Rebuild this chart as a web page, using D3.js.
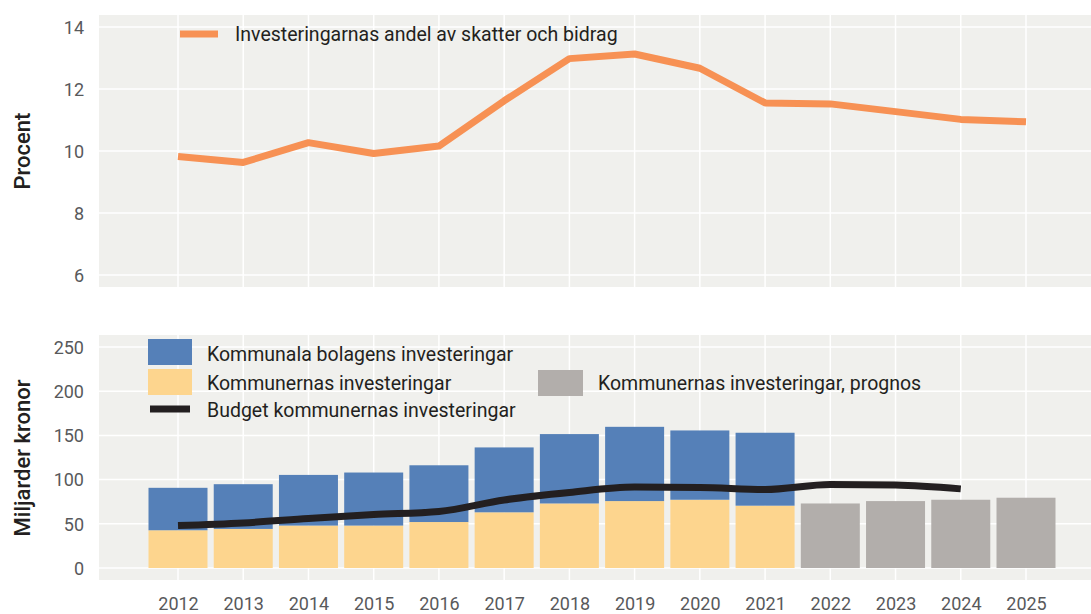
<html>
<head>
<script src="https://d3js.org/d3.v7.min.js"></script>
<style>
  body { margin: 0; background: #fff; }
  svg text { font-family: Roboto, "Open Sans", sans-serif; }
  .tick text { fill: #58595b; font-size: 18px; }
  .lbl { fill: #231f20; font-size: 19.5px; }
</style>
</head>
<body>
<svg id="chart" width="1091" height="614"></svg>
<script>
var years = [2012, 2013, 2014, 2015, 2016, 2017, 2018, 2019, 2020, 2021, 2022, 2023, 2024, 2025];
var andel = [9.82, 9.63, 10.27, 9.92, 10.16, 11.62, 12.98, 13.13, 12.67, 11.55, 11.52, 11.27, 11.02, 10.94];

var barYears = [2012, 2013, 2014, 2015, 2016, 2017, 2018, 2019, 2020, 2021];
var kommuner = [42.7, 44.2, 48, 48, 52, 63, 73, 75.7, 77.2, 70.5];
var bolag = [48, 50.6, 57.3, 60, 64.2, 73.4, 78.5, 84, 78.4, 82.5];

var progYears = [2022, 2023, 2024, 2025];
var prognos = [73, 75.7, 77.2, 79.5];

var budgetYears = [2012, 2013, 2014, 2015, 2016, 2017, 2018, 2019, 2020, 2021, 2022, 2023, 2024];
var budget = [48, 51, 56, 60.5, 64, 77, 85.5, 91.5, 91.2, 88.8, 94.5, 94, 89.5];

var topTicks = [6, 8, 10, 12, 14];
var botTicks = [0, 50, 100, 150, 200, 250];

var svg = d3.select("#chart");
var left = 99, right = 1091;

var x = d3.scaleLinear().domain([2012, 2025]).range([178, 1026]);
var yTop = d3.scaleLinear().domain([6, 14]).range([275, 27]);
var yBot = d3.scaleLinear().domain([0, 250]).range([568, 347]);

function panel(y, top, bottom, ticks) {
  var g = svg.append("g");
  g.append("rect").attr("x", left).attr("y", top)
    .attr("width", right - left).attr("height", bottom - top)
    .attr("fill", "#f0f0ed");
  g.selectAll("line.h").data(ticks).enter().append("line")
    .attr("x1", left).attr("x2", right)
    .attr("y1", function(d) { return y(d); }).attr("y2", function(d) { return y(d); })
    .attr("stroke", "#fff").attr("stroke-width", 1.5);
  g.selectAll("line.v").data(years).enter().append("line")
    .attr("x1", function(d) { return x(d); }).attr("x2", function(d) { return x(d); })
    .attr("y1", top).attr("y2", bottom)
    .attr("stroke", "#fff").attr("stroke-width", 1.5);
  var ax = svg.append("g").attr("transform", "translate(84,0)")
    .call(d3.axisLeft(y).tickValues(ticks).tickSize(0).tickPadding(0).tickFormat(d3.format("d")));
  ax.select(".domain").remove();
  ax.selectAll(".tick text").attr("dy", "0.35em");
}

panel(yTop, 15, 287, topTicks);
panel(yBot, 335, 580, botTicks);

// top line
svg.append("path").datum(years)
  .attr("fill", "none").attr("stroke", "#f79154").attr("stroke-width", 7)
  .attr("stroke-linejoin", "round")
  .attr("d", d3.line().x(function(d) { return x(d); })
    .y(function(d, i) { return yTop(andel[i]); }));

// bars
var bw = 59;
var bars = svg.append("g");
barYears.forEach(function(yr, i) {
  bars.append("rect").attr("x", x(yr) - bw / 2).attr("width", bw)
    .attr("y", yBot(kommuner[i])).attr("height", yBot(0) - yBot(kommuner[i]))
    .attr("fill", "#fdd58e");
  bars.append("rect").attr("x", x(yr) - bw / 2).attr("width", bw)
    .attr("y", yBot(kommuner[i] + bolag[i])).attr("height", yBot(kommuner[i]) - yBot(kommuner[i] + bolag[i]))
    .attr("fill", "#5580b8");
});
progYears.forEach(function(yr, i) {
  bars.append("rect").attr("x", x(yr) - bw / 2).attr("width", bw)
    .attr("y", yBot(prognos[i])).attr("height", yBot(0) - yBot(prognos[i]))
    .attr("fill", "#b2aeab");
});

svg.append("path").datum(budgetYears)
  .attr("fill", "none").attr("stroke", "#231f20").attr("stroke-width", 7)
  .attr("d", d3.line().curve(d3.curveMonotoneX)
    .x(function(d) { return x(d); })
    .y(function(d, i) { return yBot(budget[i]); }));

// x axis labels
var xa = svg.append("g").attr("transform", "translate(0,604)")
  .call(d3.axisBottom(x).tickValues(years).tickSize(0).tickPadding(0).tickFormat(d3.format("d")));
xa.select(".domain").remove();
xa.selectAll(".tick text").attr("dy", "0.35em");

// axis titles
svg.append("text").attr("class", "lbl").attr("transform", "translate(30,151) rotate(-90)")
  .attr("text-anchor", "middle").style("font-size", "22px").style("font-weight", 500).text("Procent");
svg.append("text").attr("class", "lbl").attr("transform", "translate(30,458) rotate(-90)")
  .attr("text-anchor", "middle").style("font-size", "22px").style("font-weight", 500).text("Miljarder kronor");

// legends
svg.append("line").attr("x1", 180).attr("x2", 218).attr("y1", 34).attr("y2", 34)
  .attr("stroke", "#f79154").attr("stroke-width", 7);
svg.append("text").attr("class", "lbl").attr("x", 235).attr("y", 41)
  .text("Investeringarnas andel av skatter och bidrag");

svg.append("rect").attr("x", 148).attr("y", 339).attr("width", 44).attr("height", 26).attr("fill", "#5580b8");
svg.append("text").attr("class", "lbl").attr("x", 207).attr("y", 361).text("Kommunala bolagens investeringar");
svg.append("rect").attr("x", 148).attr("y", 369).attr("width", 44).attr("height", 26).attr("fill", "#fdd58e");
svg.append("text").attr("class", "lbl").attr("x", 207).attr("y", 390).text("Kommunernas investeringar");
svg.append("line").attr("x1", 150).attr("x2", 190).attr("y1", 409).attr("y2", 409)
  .attr("stroke", "#231f20").attr("stroke-width", 7);
svg.append("text").attr("class", "lbl").attr("x", 207).attr("y", 417).text("Budget kommunernas investeringar");
svg.append("rect").attr("x", 538).attr("y", 370).attr("width", 45).attr("height", 26).attr("fill", "#b2aeab");
svg.append("text").attr("class", "lbl").attr("x", 598).attr("y", 390).text("Kommunernas investeringar, prognos");
</script>
</body>
</html>
